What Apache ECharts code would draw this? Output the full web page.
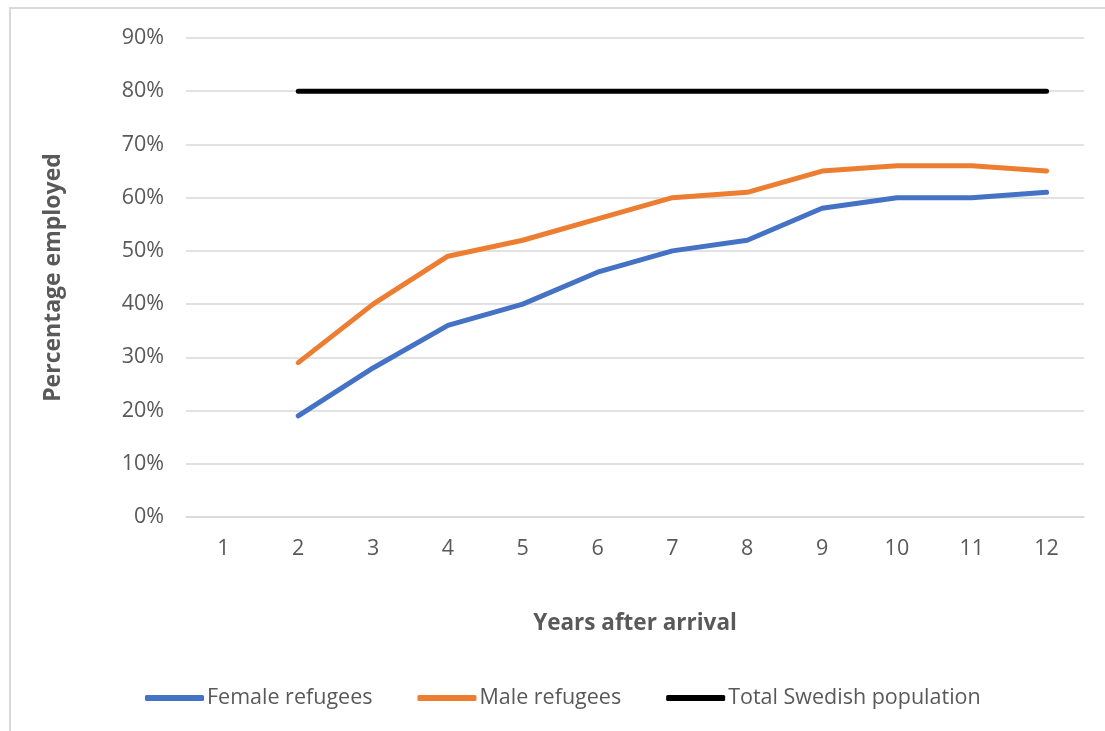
<!DOCTYPE html>
<html>
<head>
<meta charset="utf-8">
<script src="https://cdn.jsdelivr.net/npm/echarts@6/dist/echarts.min.js"></script>
<style>
html,body{margin:0;padding:0;background:#fff;}
#c{width:1105px;height:731px;}
</style>
</head>
<body>
<div id="c"></div>
<script>
const years = ['1','2','3','4','5','6','7','8','9','10','11','12'];
const female = [null,19,28,36,40,46,50,52,58,60,60,61];
const male = [null,29,40,49,52,56,60,61,65,66,66,65];
const total = [null,80,80,80,80,80,80,80,80,80,80,80];
const yTicks = [0,10,20,30,40,50,60,70,80,90];

const FONT = '"Open Sans", "Noto Sans", sans-serif';
const chart = echarts.init(document.getElementById('c'), null, {renderer:'canvas'});
chart.setOption({
  animation:false,
  backgroundColor:'#fff',
  textStyle:{fontFamily:FONT},
  graphic:[
    {type:'polyline', shape:{points:[[10,731],[10,8],[1105,8]]}, style:{stroke:'#d9d9d9', lineWidth:2, fill:null}}
  ],
  grid:{left:186, right:21, top:38, bottom:214},
  legend:{
    left:145, top:687, padding:0,
    itemWidth:59, itemHeight:6, itemGap:45,
    icon:'roundRect',
    textStyle:{fontFamily:FONT, fontSize:21.5, color:'#595959', padding:[0,0,0,-2]},
    data:['Female refugees','Male refugees','Total Swedish population']
  },
  xAxis:{
    type:'category', data:years, boundaryGap:true,
    name:'Years after arrival', nameLocation:'middle', nameGap:95,
    nameTextStyle:{fontFamily:FONT, fontSize:22.5, fontWeight:'bold', color:'#595959'},
    axisLine:{lineStyle:{color:'#d9d9d9', width:1.5}},
    axisTick:{show:false},
    axisLabel:{fontFamily:FONT, fontSize:21.5, color:'#595959', margin:21}
  },
  yAxis:{
    type:'value', min:0, max:90, interval:10,
    name:'Percentage employed', nameLocation:'middle', nameGap:121,
    nameTextStyle:{fontFamily:FONT, fontSize:23, fontWeight:'bold', color:'#595959'},
    axisLine:{show:false}, axisTick:{show:false},
    axisLabel:{fontFamily:FONT, fontSize:21.5, color:'#595959', margin:22, formatter:v=>v+'%'},
    splitLine:{lineStyle:{color:'#d9d9d9', width:1.5}}
  },
  series:[
    {name:'Female refugees', type:'line', data:female, showSymbol:false, symbol:'none',
     lineStyle:{color:'#4472C4', width:5, cap:'round', join:'round'}, itemStyle:{color:'#4472C4'}},
    {name:'Male refugees', type:'line', data:male, showSymbol:false, symbol:'none',
     lineStyle:{color:'#ED7D31', width:5, cap:'round', join:'round'}, itemStyle:{color:'#ED7D31'}},
    {name:'Total Swedish population', type:'line', data:total, showSymbol:false, symbol:'none',
     lineStyle:{color:'#000000', width:5, cap:'round', join:'round'}, itemStyle:{color:'#000000'}}
  ]
});
</script>
</body>
</html>
